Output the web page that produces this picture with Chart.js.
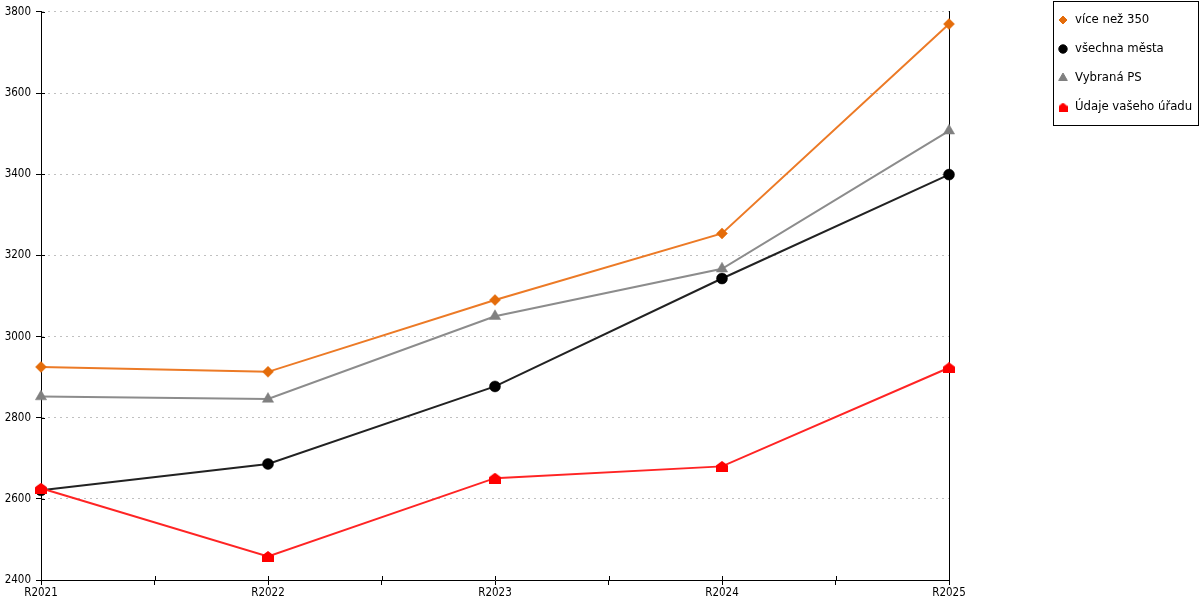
<!DOCTYPE html>
<html>
<head>
<meta charset="utf-8">
<script src="https://cdn.jsdelivr.net/npm/chart.js@4/dist/chart.umd.min.js"></script>
<style>
  html, body { margin: 0; padding: 0; background: #fff; }
  #wrap { width: 1200px; height: 600px; }
</style>
</head>
<body>
<div id="wrap"><canvas id="c" width="1200" height="600"></canvas></div>
<script>
// ---- data ----
const categories = ['R2021', 'R2022', 'R2023', 'R2024', 'R2025'];
const seriesNames = ['více než 350', 'všechna města', 'Vybraná PS', 'Údaje vašeho úřadu'];
const viceNez350 = [2925, 2913, 3090, 3254, 3770];
const vsechnaMesta = [2621, 2686, 2877, 3143, 3399];
const vybranaPS = [2852, 2846, 3050, 3167, 3507];
const udajeUradu = [2626, 2458, 2651, 2680, 2923];
const yTicks = { min: 2400, max: 3800, step: 200 };

const FONT = '"DejaVu Sans Condensed", "DejaVu Sans", sans-serif';

function house(w, h, color) {
  const c = document.createElement('canvas');
  c.width = w; c.height = h;
  const g = c.getContext('2d');
  g.fillStyle = color;
  g.beginPath();
  g.moveTo(w / 2, 0);
  g.lineTo(w, h * 0.42);
  g.lineTo(w, h);
  g.lineTo(0, h);
  g.lineTo(0, h * 0.42);
  g.closePath();
  g.fill();
  return c;
}
const houseBig = house(12, 11, '#FF0000');
const houseSmall = house(9, 9, '#FF0000');

const toPts = arr => arr.map((v, i) => ({ x: i, y: v }));

const styles = [
  { line: '#EC7A26', mark: '#E46C0A', ps: 'rectRot', r: 5.5, lr: 4, order: 4 },
  { line: '#222222', mark: '#000000', ps: 'circle', r: 5.5, lr: 4.2, order: 3 },
  { line: '#8C8C8C', mark: '#808080', ps: 'triangle', r: 6.5, lr: 5, order: 2 },
  { line: '#FF2424', mark: '#FF0000', ps: houseBig, lps: houseSmall, r: 6, lr: 5, order: 1 }
];
const seriesValues = [viceNez350, vsechnaMesta, vybranaPS, udajeUradu];

const datasets = seriesValues.map((vals, i) => ({
  label: seriesNames[i],
  data: toPts(vals),
  borderColor: styles[i].line,
  backgroundColor: styles[i].mark,
  borderWidth: 2,
  pointStyle: styles[i].ps,
  pointRadius: styles[i].r,
  pointHoverRadius: styles[i].r,
  pointBackgroundColor: styles[i].mark,
  pointBorderColor: styles[i].mark,
  pointBorderWidth: 0.5,
  tension: 0,
  fill: false,
  clip: false,
  order: styles[i].order
}));

const crossTicks = {
  id: 'crossTicks',
  afterDraw(chart) {
    const ctx = chart.ctx;
    const y = chart.scales.y, x = chart.scales.x;
    ctx.save();
    ctx.strokeStyle = '#000';
    ctx.lineWidth = 1;
    ctx.beginPath();
    y.ticks.forEach((t, i) => {
      const py = Math.round(y.getPixelForTick(i)) + 0.5;
      ctx.moveTo(y.right, py); ctx.lineTo(y.right + 4, py);
    });
    x.ticks.forEach((t, i) => {
      const px = Math.round(x.getPixelForTick(i)) + 0.5;
      ctx.moveTo(px, x.top); ctx.lineTo(px, x.top - 4);
    });
    ctx.stroke();
    ctx.restore();
  }
};

const boxLegend = {
  id: 'boxLegend',
  afterDraw(chart) {
    const ctx = chart.ctx;
    ctx.save();
    ctx.strokeStyle = '#000';
    ctx.lineWidth = 1;
    ctx.strokeRect(1053.5, 1.5, 145, 124);
    ctx.font = '13px ' + FONT;
    ctx.textBaseline = 'middle';
    ctx.textAlign = 'left';
    chart.data.datasets.forEach((ds, i) => {
      const cy = 20 + i * 29;
      const st = styles[i];
      ctx.fillStyle = st.mark;
      ctx.strokeStyle = st.mark;
      Chart.helpers.drawPoint(ctx, {
        pointStyle: st.lps || st.ps,
        radius: st.lr,
        rotation: 0,
        borderWidth: 0.5
      }, 1063, cy);
      ctx.fillStyle = '#000';
      ctx.fillText(ds.label, 1075, cy);
    });
    ctx.restore();
  }
};

new Chart(document.getElementById('c'), {
  type: 'line',
  data: { datasets },
  plugins: [crossTicks, boxLegend],
  options: {
    responsive: false,
    animation: false,
    devicePixelRatio: 1,
    layout: { padding: { top: 10, right: 251, left: 0, bottom: 0 } },
    plugins: { legend: { display: false }, tooltip: { enabled: false } },
    scales: {
      x: {
        type: 'linear',
        min: 0,
        max: categories.length - 1,
        afterFit(s) { s.height = 20; },
        ticks: {
          stepSize: 0.5,
          autoSkip: false,
          maxRotation: 0,
          padding: 1,
          color: '#000',
          font: { family: FONT, size: 11.5 },
          callback: v => Number.isInteger(v) ? categories[v] : ''
        },
        grid: { drawOnChartArea: false, drawTicks: true, tickLength: 5, tickColor: '#000' },
        border: { color: '#000', width: 1 }
      },
      y: {
        type: 'linear',
        min: yTicks.min,
        max: yTicks.max,
        afterFit(s) { s.width = 41; },
        ticks: {
          stepSize: yTicks.step,
          padding: 5,
          color: '#000',
          font: { family: FONT, size: 11.5 },
          callback: v => String(v)
        },
        grid: { color: '#C0C0C0', lineWidth: 1, tickLength: 5, tickColor: '#000', tickBorderDash: [] },
        border: { color: '#000', width: 1, dash: [2, 4] }
      },
      y2: {
        type: 'linear',
        position: 'right',
        min: yTicks.min,
        max: yTicks.max,
        afterFit(s) { s.width = 0; },
        ticks: { display: false },
        grid: { drawOnChartArea: false, drawTicks: false },
        border: { color: '#000', width: 1 }
      }
    }
  }
});
</script>
</body>
</html>
